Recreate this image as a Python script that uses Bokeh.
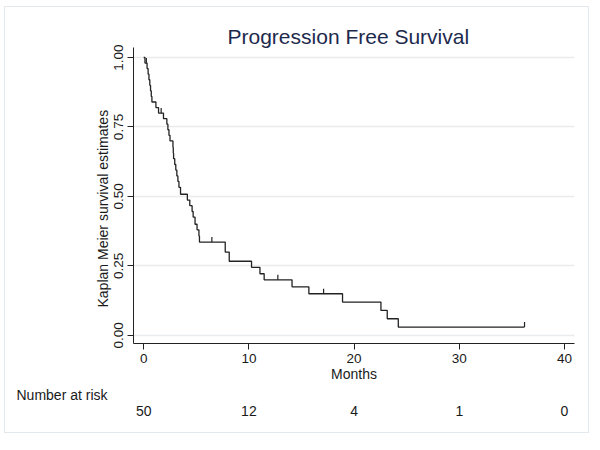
import numpy as np
from bokeh.plotting import figure
from bokeh.models import Range1d, FixedTicker, NumeralTickFormatter, Title, LinearAxis
from bokeh.embed import file_html
from bokeh.resources import INLINE

# ---------------- data ----------------
title_text = "Progression Free Survival"
x_label = "Months"
y_label = "Kaplan Meier survival estimates"
risk_label = "Number at risk"

# times (months) at which the Kaplan-Meier curve steps down, and the level after each step
event_times = [0.12, 0.32, 0.42, 0.50, 0.58, 0.65, 0.72, 0.78,
               1.16, 1.41, 1.88, 2.20, 2.30, 2.40, 2.50,
               2.78, 2.81, 2.84, 2.95, 3.05, 3.15, 3.25, 3.35, 3.50,
               4.15, 4.38, 4.60, 4.70, 4.88, 5.07, 5.25, 5.30,
               7.75, 8.13, 10.25, 11.05, 11.45, 14.10, 15.70, 18.90,
               22.55, 23.15, 24.20]
survival = [0.98, 0.96, 0.94, 0.92, 0.90, 0.88, 0.86, 0.84,
            0.82, 0.80, 0.78, 0.76, 0.74, 0.72, 0.70,
            0.677, 0.656, 0.636, 0.615, 0.595, 0.574, 0.554, 0.533, 0.508,
            0.487, 0.467, 0.446, 0.426, 0.400, 0.380, 0.358, 0.336,
            0.300, 0.267, 0.245, 0.222, 0.200, 0.175, 0.150, 0.120,
            0.090, 0.060, 0.030]
end_time = 36.2

# censored observations (tick marks)
censor_times = [0.25, 1.66, 6.48, 12.75, 17.10, 36.20]
censor_surv = [0.98, 0.80, 0.336, 0.200, 0.150, 0.030]

x_ticks = [0, 10, 20, 30, 40]
y_ticks = [0, 0.25, 0.50, 0.75, 1.00]

risk_times = [0, 10, 20, 30, 40]
at_risk = [50, 12, 4, 1, 0]

# ---------------- figure ----------------
FONT = "Liberation Sans"
TXT = "#1a1a1a"

p = figure(width=577, height=419,
           x_range=Range1d(-0.97, 40.95), y_range=Range1d(-0.029, 1.036),
           output_backend="svg", toolbar_location=None,
           min_border_left=125, min_border_right=11,
           min_border_top=37, min_border_bottom=86)
p.margin = (10, 0, 0, 8)
p.styles = {"outline": "1px solid #e3e8ec", "outline-offset": "3px"}
p.outline_line_color = None
p.background_fill_color = "white"
p.border_fill_color = "white"

# title
p.title.text = title_text
p.title.align = "left"
p.title.offset = 94
p.title.standoff = 0
p.title.text_font = FONT
p.title.text_font_size = "21px"
p.title.text_font_style = "normal"
p.title.text_color = "#1d2a4d"

# step curve
xs = [0] + event_times + [end_time]
ys = [1.0] + survival + [survival[-1]]
p.step(xs, ys, mode="after", line_color="#222222", line_width=1.3)

# censor ticks
tick_len = 0.018
p.segment(x0=censor_times, y0=censor_surv,
          x1=censor_times, y1=[s + tick_len for s in censor_surv],
          line_color="#222222", line_width=1.2)

# axes
p.xaxis.ticker = FixedTicker(ticks=x_ticks)
p.yaxis.ticker = FixedTicker(ticks=y_ticks)
p.yaxis.formatter = NumeralTickFormatter(format="0.00")
p.yaxis.major_label_orientation = "vertical"
for ax in (p.xaxis, p.yaxis):
    ax.axis_line_color = "#222222"
    ax.axis_line_width = 1
    ax.major_tick_line_color = "#222222"
    ax.major_tick_out = 6
    ax.major_tick_in = 0
    ax.minor_tick_line_color = None
    ax.major_label_text_font = FONT
    ax.major_label_text_font_size = "13.5px"
    ax.major_label_text_color = TXT
p.xaxis.major_label_standoff = 4
p.yaxis.major_label_standoff = 4

p.xaxis.axis_label = x_label
p.xaxis.axis_label_text_font = FONT
p.xaxis.axis_label_text_font_size = "14px"
p.xaxis.axis_label_text_font_style = "normal"
p.xaxis.axis_label_text_color = TXT
p.xaxis.axis_label_standoff = 0

p.xgrid.visible = False
p.ygrid.grid_line_color = "#e9ecef"
p.ygrid.grid_line_width = 1.5

# y axis label as a side title (offset along the axis like the reference)
p.add_layout(Title(text=y_label, align="left", offset=36, standoff=2,
                   text_font=FONT, text_font_size="14px", text_font_style="normal",
                   text_color=TXT), "left")

# risk table: label row + numbers as an axis sharing the x scale
p.add_layout(Title(text=risk_label, align="left", offset=-117, standoff=0,
                   text_font=FONT, text_font_size="14px", text_font_style="normal",
                   text_color=TXT), "below")
risk_axis = LinearAxis(ticker=FixedTicker(ticks=risk_times),
                       major_label_overrides={t: str(n) for t, n in zip(risk_times, at_risk)})
risk_axis.axis_line_color = None
risk_axis.major_tick_line_color = None
risk_axis.minor_tick_line_color = None
risk_axis.major_tick_out = 0
risk_axis.major_tick_in = 0
risk_axis.major_label_standoff = 3
risk_axis.major_label_text_font = FONT
risk_axis.major_label_text_font_size = "14px"
risk_axis.major_label_text_color = TXT
p.add_layout(risk_axis, "below")

open("out.html", "w").write(file_html(p, INLINE))
